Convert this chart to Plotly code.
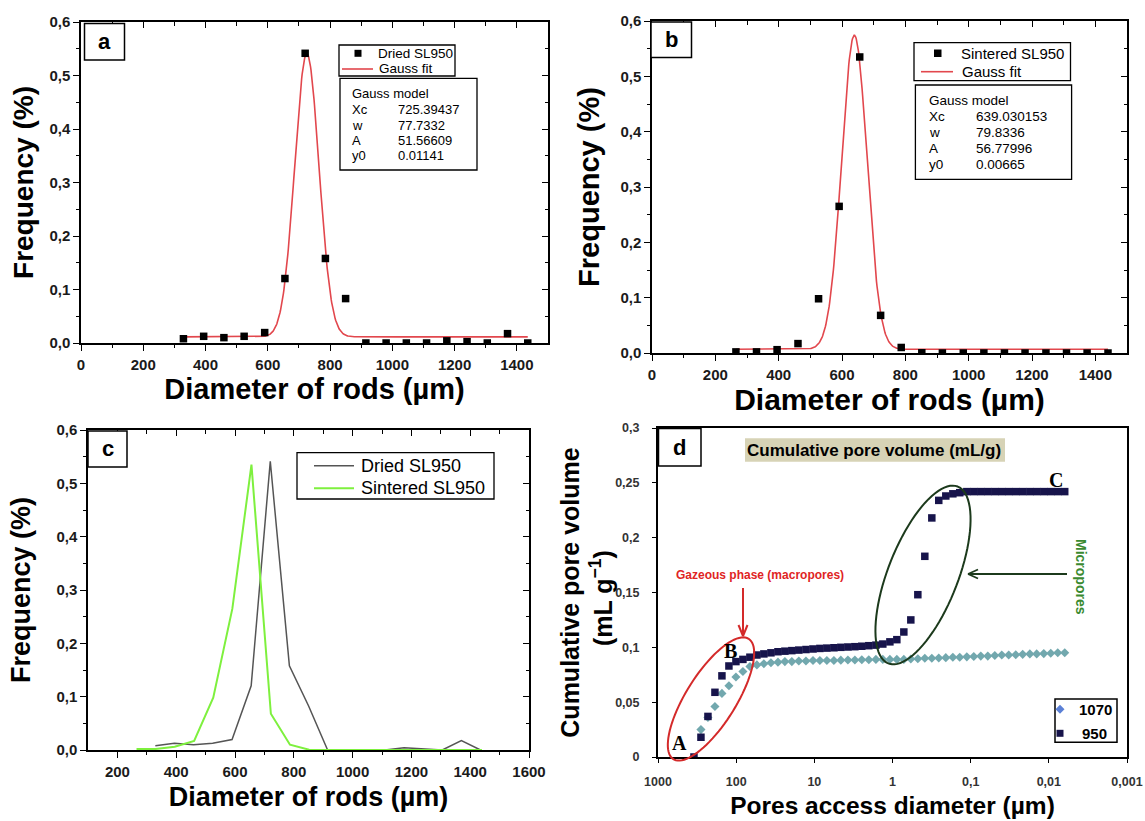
import numpy as np
import plotly.graph_objects as go

W, H = 1145, 821
FONT = "Liberation Sans, Arial, sans-serif"
SERIF = "Liberation Serif, Times New Roman, serif"

# ---------------- data ----------------
# Panel a / c : dried SL950 rod diameter distribution
dried_x = [329, 394, 459, 524, 590, 655, 720, 785, 850, 915, 980, 1045, 1110, 1175, 1240, 1305, 1370, 1435]
dried_y = [0.008, 0.0125, 0.010, 0.0125, 0.0195, 0.1205, 0.5415, 0.158, 0.083, 0.0, 0.0, 0.0,
           0.0, 0.004, 0.0025, 0.0, 0.0175, 0.0]
# Panel b / c : sintered SL950
sint_x = [265, 330, 395, 461, 526, 591, 656, 722, 787, 852, 917, 983, 1048, 1113, 1178, 1244, 1309, 1374, 1440]
sint_y = [0.002, 0.002, 0.006, 0.017, 0.098, 0.265, 0.535, 0.068, 0.010, 0.0005, 0.0, 0.0, 0.0,
          0.0, 0.0, 0.0, 0.0, 0.0, 0.0]
# Gauss model parameters printed on the chart (Origin Gauss: y0 + A/(w*sqrt(pi/2))*exp(-2((x-xc)/w)^2))
gauss_dried = dict(xc=725.39437, w=77.7332, A=51.56609, y0=0.01141)
gauss_sint = dict(xc=639.030153, w=79.8336, A=56.77996, y0=0.00665)
gauss_rows_dried = [("Gauss model", ""), ("Xc", "725.39437"), ("w", "77.7332"), ("A", "51.56609"), ("y0", "0.01141")]
gauss_rows_sint = [("Gauss model", ""), ("Xc", "639.030153"), ("w", "79.8336"), ("A", "56.77996"), ("y0", "0.00665")]

# Panel d : cumulative pore volume vs pore access diameter
pore_d = [346.7, 282.2, 229.6, 186.9, 152.1, 123.8, 100.7, 81.95, 66.7, 54.3,
          44.2, 35.9, 29.2, 23.8, 19.4, 15.8, 12.8, 10.4, 8.49, 6.91,
          5.62, 4.58, 3.72, 3.03, 2.47, 2.01, 1.63, 1.33, 1.08, 0.880,
          0.716, 0.583, 0.474, 0.386, 0.314, 0.256, 0.208, 0.169, 0.138, 0.112,
          0.0912, 0.0742, 0.0604, 0.0491, 0.0400, 0.0326, 0.0265, 0.0216, 0.0175, 0.0143,
          0.0116, 0.00945, 0.00769, 0.00626]
vol_950 = [0.000, 0.018, 0.037, 0.059, 0.074, 0.083, 0.087, 0.089, 0.091, 0.093,
           0.094, 0.095, 0.096, 0.0965, 0.097, 0.0975, 0.098, 0.0985, 0.099, 0.0993,
           0.0996, 0.100, 0.1003, 0.1006, 0.101, 0.1015, 0.102, 0.103, 0.105, 0.107,
           0.114, 0.125, 0.148, 0.183, 0.218, 0.234, 0.238, 0.240, 0.241, 0.242,
           0.242, 0.242, 0.242, 0.242, 0.242, 0.242, 0.242, 0.242, 0.242, 0.242,
           0.242, 0.242, 0.242, 0.242]
pore_d_1070 = pore_d[1:]
vol_1070 = [0.025, 0.036, 0.046, 0.058, 0.065, 0.073, 0.078, 0.0825, 0.084,
            0.085, 0.086, 0.0865, 0.087, 0.087, 0.0875, 0.0875, 0.088, 0.088, 0.088,
            0.088, 0.0883, 0.0885, 0.0885, 0.0887, 0.0887, 0.089, 0.089, 0.089, 0.089,
            0.089, 0.0893, 0.0896, 0.090, 0.090, 0.0903, 0.0906, 0.091, 0.091, 0.0913,
            0.0916, 0.092, 0.092, 0.0925, 0.093, 0.093, 0.0933, 0.0936, 0.094, 0.094,
            0.0943, 0.0946, 0.095, 0.095]

# tick labels
x_ticks_ab = [0, 200, 400, 600, 800, 1000, 1200, 1400]
x_ticks_c = [200, 400, 600, 800, 1000, 1200, 1400, 1600]
y_ticks_freq = [0.0, 0.1, 0.2, 0.3, 0.4, 0.5, 0.6]
y_text_freq = ["0,0", "0,1", "0,2", "0,3", "0,4", "0,5", "0,6"]
d_x_ticks = [1000, 100, 10, 1, 0.1, 0.01, 0.001]
d_x_text = ["1000", "100", "10", "1", "0,1", "0,01", "0,001"]
d_y_ticks = [0, 0.05, 0.1, 0.15, 0.2, 0.25, 0.3]
d_y_text = ["0", "0,05", "0,1", "0,15", "0,2", "0,25", "0,3"]


def PX(x):
    return x / W


def PY(y):
    return 1 - y / H


def gauss(p, x):
    return p["y0"] + p["A"] / (p["w"] * np.sqrt(np.pi / 2)) * np.exp(-2 * ((x - p["xc"]) / p["w"]) ** 2)


# panel frames in pixels: (left, right, top, bottom)
FA = (81, 548, 22, 343)
FB = (652, 1127, 21, 353)
FC = (88, 529, 430, 750)
FD = (658, 1127, 428, 757)

fig = go.Figure()

# ---- panel a ----
fxa = np.linspace(min(dried_x), max(dried_x), 700)
fig.add_trace(go.Scatter(x=fxa, y=gauss(gauss_dried, fxa), mode="lines", name="Gauss fit",
                         line=dict(color="#e2474d", width=1.6), xaxis="x", yaxis="y", showlegend=False))
fig.add_trace(go.Scatter(x=dried_x, y=dried_y, mode="markers", name="Dried SL950",
                         marker=dict(symbol="square", size=7.5, color="black"),
                         xaxis="x", yaxis="y", showlegend=False))
# ---- panel b ----
fxb = np.linspace(min(sint_x), max(sint_x), 700)
fig.add_trace(go.Scatter(x=fxb, y=gauss(gauss_sint, fxb), mode="lines", name="Gauss fit",
                         line=dict(color="#e2474d", width=1.6), xaxis="x2", yaxis="y2", showlegend=False))
fig.add_trace(go.Scatter(x=sint_x, y=sint_y, mode="markers", name="Sintered SL950",
                         marker=dict(symbol="square", size=7.5, color="black"),
                         xaxis="x2", yaxis="y2", showlegend=False))
# ---- panel c ----
fig.add_trace(go.Scatter(x=dried_x, y=dried_y, mode="lines", name="Dried SL950",
                         line=dict(color="#555555", width=1.5), xaxis="x3", yaxis="y3", showlegend=False))
fig.add_trace(go.Scatter(x=sint_x, y=sint_y, mode="lines", name="Sintered SL950",
                         line=dict(color="#7ef03e", width=2), xaxis="x3", yaxis="y3", showlegend=False))
# ---- panel d ----
fig.add_trace(go.Scatter(x=pore_d_1070, y=vol_1070, mode="markers", name="1070",
                         marker=dict(symbol="diamond", size=7, color="#72a8ae"),
                         xaxis="x4", yaxis="y4", showlegend=False))
fig.add_trace(go.Scatter(x=pore_d, y=vol_950, mode="markers", name="950",
                         marker=dict(symbol="square", size=7.5, color="#17144b"),
                         xaxis="x4", yaxis="y4", showlegend=False))
# dummy traces so the inner-tick overlay axes are drawn
for i in (5, 6, 7):
    fig.add_trace(go.Scatter(x=[], y=[], xaxis=f"x{i}", yaxis=f"y{i}", showlegend=False, hoverinfo="skip"))

TF = dict(family=FONT, size=15, color="#1a1a1a", weight="bold")
TITLE_F = lambda s: dict(family=FONT, size=s, color="black", weight="bold")


def xdom(f):
    return [PX(f[0]), PX(f[1])]


def ydom(f):
    return [PY(f[3]), PY(f[2])]


def base_axis(**kw):
    d = dict(showline=True, linecolor="black", linewidth=1.5, mirror=True, ticks="outside",
             tickcolor="black", tickwidth=1.3, showgrid=False, zeroline=False, fixedrange=True,
             tickfont=TF, automargin=False)
    d.update(kw)
    return d


def inner_axis(**kw):
    d = dict(showline=False, ticks="inside", tickcolor="black", tickwidth=1.3, ticklen=6,
             showticklabels=False, showgrid=False, zeroline=False, fixedrange=True, automargin=False)
    d.update(kw)
    return d


layout = dict(width=W, height=H, margin=dict(l=0, r=0, t=0, b=0, autoexpand=False), paper_bgcolor="white",
              plot_bgcolor="white", showlegend=False, font=dict(family=FONT, color="black"))

freq_minor = dict(tickmode="array", tickvals=[0.05, 0.15, 0.25, 0.35, 0.45, 0.55], ticklen=3.5,
                  tickwidth=1.2, tickcolor="black", showgrid=False)
ab_minor_vals = [100, 300, 500, 700, 900, 1100, 1300]
c_minor_vals = [300, 500, 700, 900, 1100, 1300, 1500]

panels = [("", "", FA, [0, 1500], x_ticks_ab, ab_minor_vals, 29, 3, 28, 8),
          ("2", "2", FB, [0, 1500], x_ticks_ab, ab_minor_vals, 30, 4, 29, 12),
          ("3", "3", FC, [100, 1600], x_ticks_c, c_minor_vals, 27, 8, 27, 18)]
for (xs, ys, F, xr, xt, xm, xts, xso, yts, yso), ov in zip(panels, (5, 6, 7)):
    layout["xaxis" + xs] = base_axis(
        domain=xdom(F), range=xr, anchor="y" + ys, ticklen=6, tickmode="array", tickvals=xt,
        ticktext=[str(v) for v in xt], ticklabelstandoff=1,
        minor=dict(tickmode="array", tickvals=xm, ticks="outside", ticklen=3.5, tickwidth=1.2,
                   tickcolor="black", showgrid=False),
        title=dict(text="Diameter of rods (µm)", font=TITLE_F(xts), standoff=xso))
    layout["yaxis" + ys] = base_axis(
        domain=ydom(F), range=[0, 0.6], anchor="x" + xs, ticklen=6, tickmode="array",
        tickvals=y_ticks_freq, ticktext=y_text_freq,
        minor=dict(freq_minor, ticks="outside"),
        title=dict(text="Frequency (%)", font=TITLE_F(yts), standoff=yso))
    layout[f"xaxis{ov}"] = inner_axis(overlaying="x" + xs, anchor=f"y{ov}", side="top", range=xr,
                                      tickmode="array", tickvals=xt,
                                      minor=dict(tickmode="array", tickvals=xm, ticks="inside", ticklen=3.5,
                                                 tickwidth=1.2, tickcolor="black", showgrid=False))
    layout[f"yaxis{ov}"] = inner_axis(overlaying="y" + ys, anchor=f"x{ov}", side="right", range=[0, 0.6],
                                      tickmode="array", tickvals=y_ticks_freq,
                                      minor=dict(freq_minor, ticks="inside"))

layout["xaxis4"] = base_axis(
    domain=xdom(FD), type="log", range=[3, -3], anchor="y4", linewidth=2, ticklen=4,
    tickmode="array", tickvals=d_x_ticks, ticktext=d_x_text, ticklabelstandoff=8,
    tickfont=dict(family=FONT, size=12.5, color="#333333", weight="bold"),
    title=dict(text="Pores access diameter (µm)", font=TITLE_F(24.5), standoff=9))
layout["yaxis4"] = base_axis(
    domain=ydom(FD), range=[0, 0.3], anchor="x4", linewidth=2, ticklen=4,
    tickmode="array", tickvals=d_y_ticks, ticktext=d_y_text, ticklabelstandoff=10,
    tickfont=dict(family=FONT, size=12.5, color="#333333", weight="bold"),
    title=dict(text="Cumulative pore volume", font=TITLE_F(25), standoff=28))

shapes = []
annotations = []


def rect(x0, x1, y0, y1, lw=1.3, line="black", fill="white"):
    shapes.append(dict(type="rect", xref="paper", yref="paper", x0=PX(x0), x1=PX(x1),
                       y0=PY(y1), y1=PY(y0), line=dict(color=line, width=lw), fillcolor=fill, layer="above"))


def seg(x0, y0, x1, y1, color, width):
    shapes.append(dict(type="line", xref="paper", yref="paper", x0=PX(x0), x1=PX(x1), y0=PY(y0), y1=PY(y1),
                       line=dict(color=color, width=width), layer="above"))


def hline(x0, x1, y, color, width):
    seg(x0, y, x1, y, color, width)


def text(x, y, s, size, color="black", weight="normal", xanchor="left", family=FONT, angle=0):
    annotations.append(dict(xref="paper", yref="paper", x=PX(x), y=PY(y), text=s, showarrow=False,
                            xanchor=xanchor, yanchor="middle", textangle=angle,
                            font=dict(family=family, size=size, color=color, weight=weight)))


# second line of the panel-d y-axis title
text(601, 598, "(mL g<sup>−1</sup>)", 25, weight="bold", xanchor="center", angle=-90)

# panel letter boxes
for (x0, x1, y0, y1, s) in [(84.5, 124.5, 23.5, 60, "a"), (651, 691.5, 22, 57.5, "b"),
                            (88, 127, 431, 467, "c"), (658.5, 701, 428.5, 466, "d")]:
    rect(x0, x1, y0, y1, lw=1.5)
    text((x0 + x1) / 2, (y0 + y1) / 2, s, 22, weight="bold", xanchor="center")

# legend a
rect(339, 455, 45, 76)
rect(354.5, 361.5, 49.8, 56.8, lw=0, fill="black")
text(376, 53.3, "Dried SL950", 13.5)
hline(342, 373, 69, "#e2474d", 1.6)
text(377, 69, "Gauss fit", 13.5)
# legend b
rect(914, 1070.5, 42.7, 80.7)
rect(934, 941.5, 49.5, 57, lw=0, fill="black")
text(958.5, 53.3, "Sintered SL950", 15)
hline(921, 953, 71.7, "#e2474d", 1.6)
text(959.5, 71.7, "Gauss fit", 15)
# gauss model boxes
rect(340, 477, 78.3, 170)
for (lab, val), yy in zip(gauss_rows_dried, [94, 109.3, 125, 140.5, 155.7]):
    text(349.5, yy, lab, 13)
    if val:
        text(396, yy, val, 13)
rect(915.4, 1071.6, 85, 179.3)
for (lab, val), yy in zip(gauss_rows_sint, [100, 116.5, 132.7, 149, 164.3]):
    text(926.5, yy, lab, 13.5)
    if val:
        text(974, yy, val, 13.5)
# legend c
rect(297, 494, 452.7, 499)
hline(314, 354, 465.7, "#555555", 1.5)
text(359, 465.7, "Dried SL950", 18)
hline(314, 354, 488.3, "#7ef03e", 2)
text(359, 488.3, "Sintered SL950", 18)

# panel d decorations
shapes.append(dict(type="rect", xref="paper", yref="paper", x0=PX(745), x1=PX(1005), y0=PY(461.7),
                   y1=PY(438.3), line=dict(width=0), fillcolor="#d7d3b6", layer="above"))
text(874, 450, "Cumulative pore volume (mL/g)", 17, weight="bold", xanchor="center")
rect(1055, 1117, 699, 742.3, lw=1.5)
cx, cy, r = 1060, 709.3, 4.5
shapes.append(dict(type="path", xref="paper", yref="paper", fillcolor="#5b80d6", line=dict(width=0),
                   path=f"M {PX(cx)},{PY(cy - r)} L {PX(cx + r)},{PY(cy)} L {PX(cx)},{PY(cy + r)} L {PX(cx - r)},{PY(cy)} Z",
                   layer="above"))
rect(1056.5, 1063.5, 729.8, 736.8, lw=0, fill="#17144b")
text(1113.5, 709.3, "1070", 15, weight="bold", xanchor="right")
text(1109, 733.3, "950", 15, weight="bold", xanchor="right")


def ellipse(cx, cy, a, b, theta, color):
    t = np.linspace(0, 2 * np.pi, 90)
    th = np.radians(theta)
    mx, my = np.sin(th), -np.cos(th)
    nx, ny = np.cos(th), np.sin(th)
    xs = cx + a * np.cos(t) * mx + b * np.sin(t) * nx
    ys = cy + a * np.cos(t) * my + b * np.sin(t) * ny
    pts = [f"{PX(x):.5f},{PY(y):.5f}" for x, y in zip(xs, ys)]
    shapes.append(dict(type="path", xref="paper", yref="paper", path="M " + " L ".join(pts) + " Z",
                       line=dict(color=color, width=2), layer="above"))


ellipse(711, 699, 71, 25, 32, "#d42a2a")
ellipse(923, 575, 95, 35, 21.4, "#1c3a1c")

# arrows (drawn as line shapes)
RED, DKGREEN = "#d42a2a", "#1c3a1c"
seg(743, 588, 743, 635, RED, 2)
seg(743, 636, 738.5, 625, RED, 2)
seg(743, 636, 747.5, 625, RED, 2)
seg(969, 574, 1067, 574, DKGREEN, 1.8)
seg(968, 574, 978, 569.5, DKGREEN, 1.8)
seg(968, 574, 978, 578.5, DKGREEN, 1.8)

text(760, 575, "Gazeous phase (macropores)", 12, color="#e02424", weight="bold", xanchor="center")
text(1081, 577, "Micropores", 14, color="#3a8a30", weight="bold", xanchor="center", angle=90)
text(679, 743, "A", 20, weight="bold", xanchor="center", family=SERIF)
text(730, 651, "B", 20, weight="bold", xanchor="center", family=SERIF)
text(1056, 479.5, "C", 20, weight="bold", xanchor="center", family=SERIF)

layout["shapes"] = shapes
layout["annotations"] = annotations
fig.update_layout(**layout)
fig.write_html("out.html", config={"displayModeBar": False},
               post_script="document.body.style.margin='0px';")
